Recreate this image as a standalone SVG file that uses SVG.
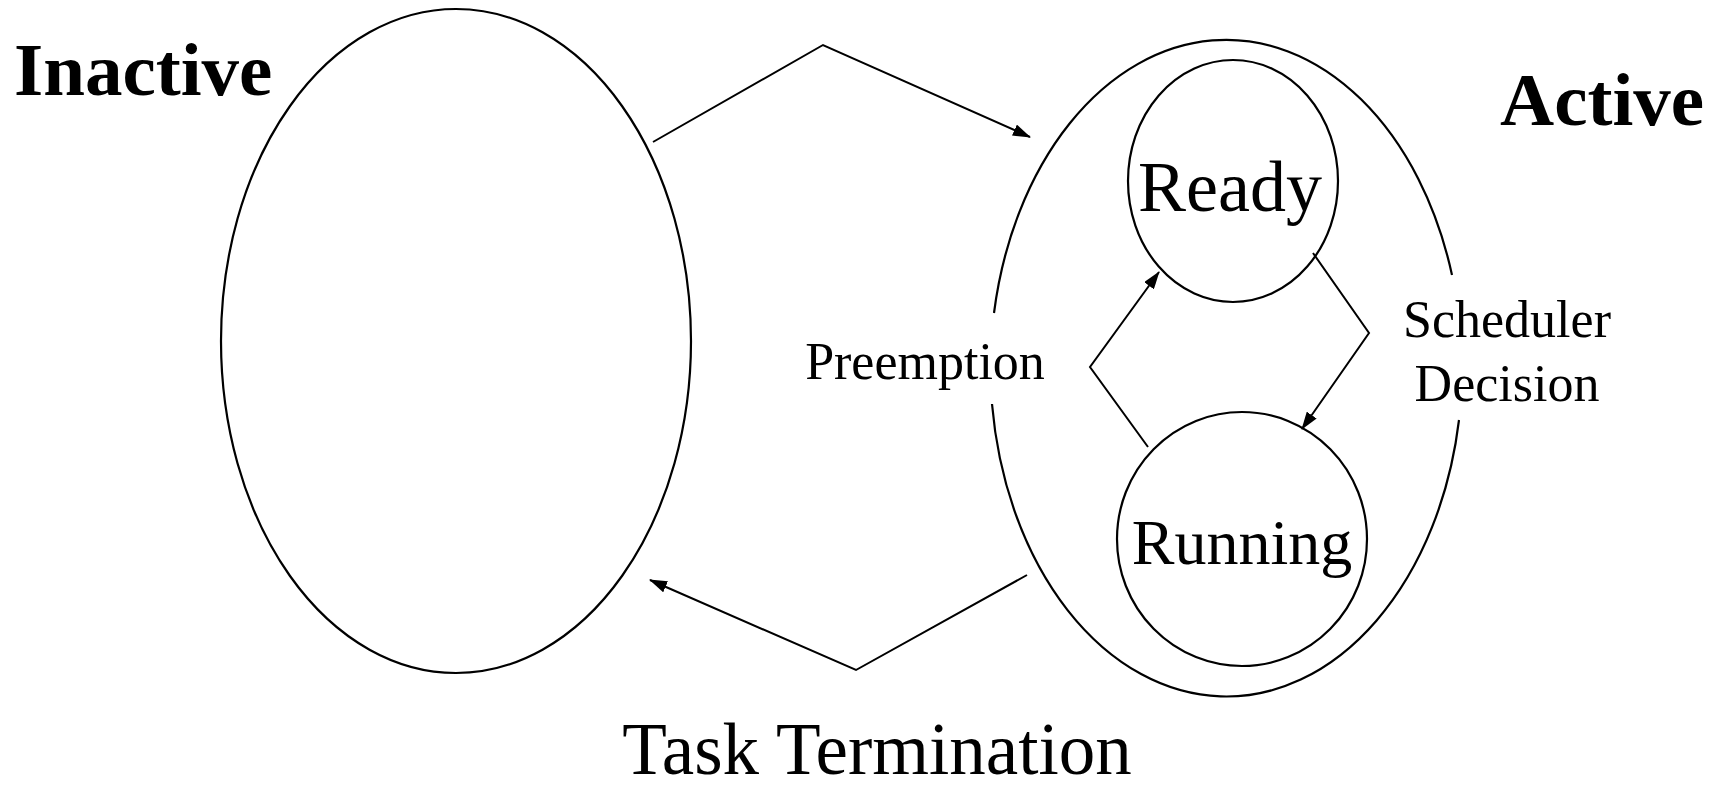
<svg xmlns="http://www.w3.org/2000/svg" width="1717" height="790" viewBox="0 0 1717 790">
  <style>
    .shape { fill: none; stroke: #000; stroke-width: 2.2; }
    .link { fill: none; stroke: #000; stroke-width: 2; marker-end: url(#head); }
    .title { font-family: "Liberation Serif", "Times New Roman", serif; font-weight: bold; font-size: 75px; fill: #000; }
    .state { font-family: "Liberation Serif", "Times New Roman", serif; fill: #000; }
    .label { font-family: "Liberation Serif", "Times New Roman", serif; font-size: 52px; fill: #000; }
  </style>
  <defs>
    <marker id="head" markerUnits="userSpaceOnUse" markerWidth="18" markerHeight="12" refX="17" refY="6" orient="auto">
      <path d="M0,0 L18,6 L0,12 z" fill="#000"/>
    </marker>
  </defs>
  <rect width="1717" height="790" fill="#fff"/>

  <!-- Inactive set -->
  <g id="inactive">
    <ellipse class="shape" cx="456" cy="341" rx="235" ry="332"/>
    <text class="title" x="14" y="95">Inactive</text>
  </g>

  <!-- Active set: outer boundary broken where the labels sit -->
  <g id="active">
    <path class="shape" d="M1452,275 A236,332 0 0 0 994,313"/>
    <path class="shape" d="M992,404 A236,332 0 0 0 1459,420"/>
    <text class="title" x="1500" y="125">Active</text>
  </g>

  <g id="ready">
    <ellipse class="shape" cx="1233" cy="181" rx="105" ry="121"/>
    <text class="state" x="1230" y="211" font-size="72" text-anchor="middle">Ready</text>
  </g>

  <g id="running">
    <ellipse class="shape" cx="1242" cy="539" rx="125" ry="127"/>
    <text class="state" x="1242" y="564" font-size="64" text-anchor="middle">Running</text>
  </g>

  <!-- Transitions -->
  <g id="connectors">
    <polyline class="link" points="653,142 823,45 1030,137"/>
    <polyline class="link" points="1027,575 856,670 650,580"/>
    <polyline class="link" points="1148,447 1090,367 1159,272"/>
    <polyline class="link" points="1313,253 1369,333 1302,429"/>
  </g>

  <g id="labels">
    <text class="label" x="925" y="379" text-anchor="middle">Preemption</text>
    <text class="label" x="1507" y="337" text-anchor="middle">Scheduler</text>
    <text class="label" x="1507" y="401" text-anchor="middle">Decision</text>
    <text class="state" x="877" y="774" font-size="73" text-anchor="middle">Task Termination</text>
  </g>
</svg>
